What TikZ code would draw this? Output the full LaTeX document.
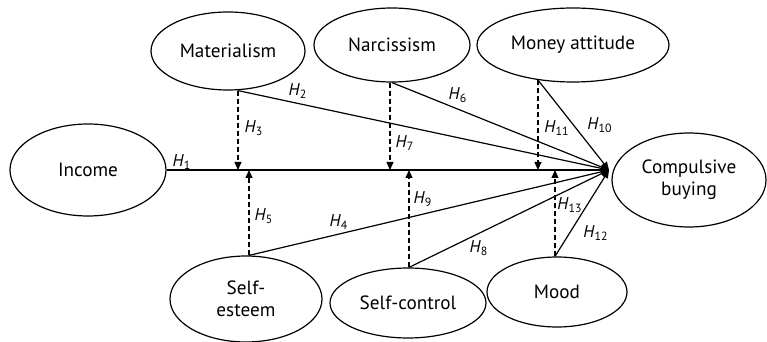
\documentclass[tikz,border=0pt]{standalone}
\usepackage{fontspec}
\setmainfont{PT Sans}
\usepackage{tikz}
\usetikzlibrary{arrows.meta,shapes.geometric,calc}
\newcommand{\hyp}[1]{\textit{H}\textsubscript{#1}}
\tikzset{
  construct/.style={draw, ellipse, inner sep=0pt, align=center, line width=0.6pt, font=\fontsize{9.6}{11}\selectfont},
  hlabel/.style={inner sep=0pt, font=\fontsize{8.5}{9.5}\selectfont},
  effect/.style={-{Triangle[length=4pt,width=3.5pt]}, line width=0.6pt},
  moderation/.style={-{Triangle[length=4pt,width=3.5pt]}, line width=0.6pt, dash pattern=on 2.5pt off 1.5pt}
}

\begin{document}
\begin{tikzpicture}[x=0.5pt,y=-0.5pt]
  \useasboundingbox (0,0) rectangle (767,342);
  % constructs
  \node[construct, minimum width=78pt, minimum height=46pt] (inc) at (88,170) {Income};
  \node[construct, minimum width=77pt, minimum height=39pt] (mat) at (228,51) {Materialism};
  \node[construct, minimum width=78pt, minimum height=37pt] (nar) at (392,45) {Narcissism};
  \node[construct, minimum width=96pt, minimum height=37pt] (ma) at (573,45) {Money attitude};
  \node[construct, minimum width=77pt, minimum height=47pt] (cb) at (689,180) {Compulsive\\buying};
  \node[construct, minimum width=76pt, minimum height=43pt] (se) at (246,299) {Self-\\esteem};
  \node[construct, minimum width=78pt, minimum height=35pt] (sc) at (408,303) {Self-control};
  \node[construct, minimum width=70pt, minimum height=35pt] (mood) at (557,292) {Mood};
  % junctions on the income path
  \coordinate (hub) at (609,170);
  \coordinate (j3) at (238,170);
  \coordinate (j5) at (249,170);
  \coordinate (j7) at (390,170);
  \coordinate (j9) at (409,170);
  \coordinate (j13) at (555,170);
  % direct effects
  \draw[effect, line width=0.75pt] (inc.east) -- (hub);
  \draw[effect] (mat.south -| j3) -- (hub);
  \draw[effect] (nar.south) -- (hub);
  \draw[effect] (ma.-135) -- (hub);
  \draw[effect] (se.north -| j5) -- (hub);
  \draw[effect] (sc.north -| j9) -- (hub);
  \draw[effect] (mood.north -| j13) -- (hub);
  % moderating effects
  \draw[moderation] (mat.south -| j3) -- (j3);
  \draw[moderation] (nar.south -| j7) -- (j7);
  \draw[moderation] (ma.-135) -- (ma.-135 |- hub);
  \draw[moderation] (se.north -| j5) -- (j5);
  \draw[moderation] (sc.north -| j9) -- (j9);
  \draw[moderation] (mood.north -| j13) -- (j13);
  % hypotheses
  \node[hlabel] (h1) at (182,162) {\hyp{1}};
  \node[hlabel] (h2) at (298,91) {\hyp{2}};
  \node[hlabel] (h3) at (254,128) {\hyp{3}};
  \node[hlabel] (h4) at (339,222) {\hyp{4}};
  \node[hlabel] (h5) at (264,216) {\hyp{5}};
  \node[hlabel] (h6) at (458,95) {\hyp{6}};
  \node[hlabel] (h7) at (405,143) {\hyp{7}};
  \node[hlabel] (h8) at (479,248) {\hyp{8}};
  \node[hlabel] (h9) at (423,199) {\hyp{9}};
  \node[hlabel] (h10) at (600,125) {\hyp{10}};
  \node[hlabel] (h11) at (557,128) {\hyp{11}};
  \node[hlabel] (h12) at (596,233) {\hyp{12}};
  \node[hlabel] (h13) at (570,205) {\hyp{13}};
\end{tikzpicture}
\end{document}
